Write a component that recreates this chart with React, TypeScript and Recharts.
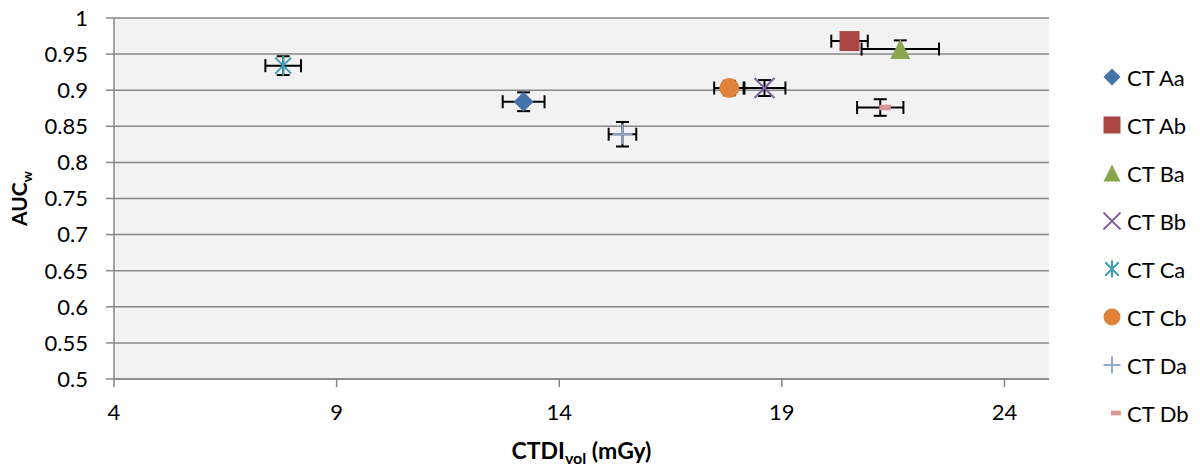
import React from 'react';
import {
  ScatterChart,
  Scatter,
  XAxis,
  YAxis,
  CartesianGrid,
  ErrorBar,
} from 'recharts';

// scanner protocols, in legend order
const seriesNames = ['CT Aa', 'CT Ab', 'CT Ba', 'CT Bb', 'CT Ca', 'CT Cb', 'CT Da', 'CT Db'];
const seriesColors = ['#4572A7', '#AA4643', '#89A54E', '#7E62A1', '#3D9DB5', '#E0823A', '#92A8CD', '#D89694'];
const seriesMarkers = ['diamond', 'square', 'triangle', 'x', 'asterisk', 'circle', 'plus', 'dash'];

// CTDIvol (mGy) and weighted AUC, with their error bars
const ctdiValues = [13.2, 20.52, 21.66, 18.61, 7.8, 17.82, 15.42, 21.21];
const ctdiErrors = [0.47, 0.41, 0.87, 0.47, 0.4, 0.34, 0.31, 0.52];
const aucValues = [0.884, 0.968, 0.957, 0.903, 0.934, 0.903, 0.839, 0.876];
const aucErrors = [0.013, 0.008, 0.012, 0.011, 0.013, 0.01, 0.017, 0.0115];

const xTicks = [4, 9, 14, 19, 24];
const yTicks = [0.5, 0.55, 0.6, 0.65, 0.7, 0.75, 0.8, 0.85, 0.9, 0.95, 1];

const FONT = 'Lato, "Open Sans", sans-serif';
const AXIS_GRAY = '#878787';

function Marker({ kind, color, cx, cy, size }: { kind: string; color: string; cx: number; cy: number; size: number }) {
  const h = size / 2;
  switch (kind) {
    case 'diamond':
      return <polygon points={`${cx},${cy - h} ${cx + h},${cy} ${cx},${cy + h} ${cx - h},${cy}`} fill={color} />;
    case 'square':
      return <rect x={cx - h} y={cy - h} width={size} height={size} fill={color} />;
    case 'triangle':
      return <polygon points={`${cx},${cy - h} ${cx + h},${cy + h} ${cx - h},${cy + h}`} fill={color} />;
    case 'circle':
      return <circle cx={cx} cy={cy} r={h} fill={color} />;
    case 'x':
      return (
        <g stroke={color} strokeWidth={2}>
          <line x1={cx - h} y1={cy - h} x2={cx + h} y2={cy + h} />
          <line x1={cx - h} y1={cy + h} x2={cx + h} y2={cy - h} />
        </g>
      );
    case 'asterisk':
      return (
        <g stroke={color} strokeWidth={2}>
          <line x1={cx - h * 0.8} y1={cy - h * 0.8} x2={cx + h * 0.8} y2={cy + h * 0.8} />
          <line x1={cx - h * 0.8} y1={cy + h * 0.8} x2={cx + h * 0.8} y2={cy - h * 0.8} />
          <line x1={cx} y1={cy - h} x2={cx} y2={cy + h} />
        </g>
      );
    case 'plus':
      return (
        <g stroke={color} strokeWidth={2}>
          <line x1={cx - h} y1={cy} x2={cx + h} y2={cy} />
          <line x1={cx} y1={cy - h} x2={cx} y2={cy + h} />
        </g>
      );
    case 'dash':
      return <rect x={cx - 1} y={cy - size * 0.14} width={size * 0.58} height={size * 0.28} fill={color} />;
    default:
      return null;
  }
}

// eslint-disable-next-line @typescript-eslint/no-explicit-any
function YTitle({ viewBox }: any) {
  const x = viewBox.x + 27;
  const y = viewBox.y + viewBox.height / 2;
  return (
    <text
      x={x}
      y={y}
      transform={`rotate(-90, ${x}, ${y})`}
      textAnchor="middle"
      fontFamily={FONT}
      fontWeight={700}
      fontSize={21}
      fill="#000"
    >
      AUC
      <tspan fontSize={14} dy={5}>w</tspan>
    </text>
  );
}

// eslint-disable-next-line @typescript-eslint/no-explicit-any
function XTitle({ viewBox }: any) {
  const x = viewBox.x + viewBox.width / 2;
  const y = viewBox.y + 80;
  return (
    <text x={x} y={y} textAnchor="middle" fontFamily={FONT} fontWeight={700} fontSize={23} fill="#000">
      CTDI
      <tspan fontSize={16} dy={5}>vol</tspan>
      <tspan dy={-5}> (mGy)</tspan>
    </text>
  );
}

function Legend() {
  return (
    <div style={{ position: 'absolute', left: 1100, top: 53, fontFamily: FONT, fontSize: 22, color: '#000' }}>
      {seriesNames.map((name, i) => (
        <div key={name} style={{ display: 'flex', alignItems: 'center', height: 48 }}>
          <svg width={26} height={24} style={{ marginRight: 1 }}>
            <Marker kind={seriesMarkers[i]} color={seriesColors[i]} cx={12} cy={12} size={17} />
          </svg>
          <span>{name}</span>
        </div>
      ))}
    </div>
  );
}

export default function App() {
  const tickStyle = { fontFamily: FONT, fontSize: 22, fill: '#000' };
  return (
    <div style={{ position: 'absolute', left: 0, top: 0, width: 1200, height: 474, background: '#fff' }}>
      <ScatterChart width={1200} height={474} margin={{ top: 18, right: 151, bottom: 0, left: 0 }}>
        <CartesianGrid vertical={false} fill="#F2F2F2" stroke={AXIS_GRAY} strokeWidth={1.5} />
        <XAxis
          type="number"
          dataKey="x"
          domain={[4, 25]}
          ticks={xTicks}
          height={95}
          stroke={AXIS_GRAY}
          strokeWidth={1.5}
          tickSize={8}
          tickMargin={17}
          tick={tickStyle}
          label={(p: any) => <XTitle {...p} />}
        />
        <YAxis
          type="number"
          dataKey="y"
          domain={[0.5, 1]}
          ticks={yTicks}
          width={114}
          stroke={AXIS_GRAY}
          strokeWidth={1.5}
          tickSize={8}
          tickMargin={18}
          tick={tickStyle}
          label={(p: any) => <YTitle {...p} />}
        />
        {seriesNames.map((name, i) => (
          <Scatter
            key={name}
            name={name}
            data={[{ x: ctdiValues[i], y: aucValues[i], ex: ctdiErrors[i], ey: aucErrors[i] }]}
            isAnimationActive={false}
            shape={(p: any) => (
              <Marker kind={seriesMarkers[i]} color={seriesColors[i]} cx={p.cx} cy={p.cy} size={20} />
            )}
          >
            <ErrorBar dataKey="ex" direction="x" width={6.5} stroke="#000" strokeWidth={2} isAnimationActive={false} />
            <ErrorBar dataKey="ey" direction="y" width={6.5} stroke="#000" strokeWidth={2} isAnimationActive={false} />
          </Scatter>
        ))}
      </ScatterChart>
      <Legend />
    </div>
  );
}
